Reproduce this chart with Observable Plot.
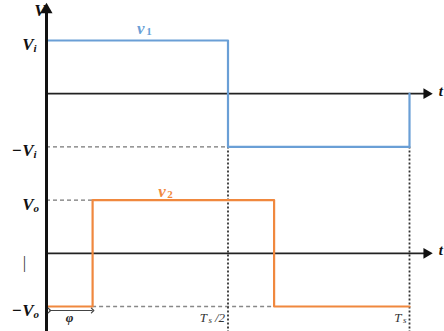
<!DOCTYPE html>
<html>
<head>
<meta charset="utf-8">
<script src="https://cdn.jsdelivr.net/npm/d3@7"></script>
<script src="https://cdn.jsdelivr.net/npm/@observablehq/plot@0.6"></script>
<style>
  html, body { margin: 0; padding: 0; background: #fff; }
  #chart svg { display: block; }
</style>
</head>
<body>
<div id="chart"></div>
<script>
// ---- data (time in units of Ts, voltages in units of the amplitude) ----
const phi = 0.127;                       // phase shift φ (fraction of Ts)
const tV1 = [0, 0.5, 0.5, 1, 1];
const v1  = [1, 1, -1, -1, 0];
const tV2 = [0, phi, phi, 0.5 + phi, 0.5 + phi, 1];
const v2  = [-1, -1, 1, 1, -1, -1];
const base1 = 0;                         // baseline of v1 panel
const base2 = -3;                        // baseline of v2 panel
const tickTimes  = [0.5, 1];
const tickLabels = ["T", "T"];
const tickSubs   = ["s", "s"];
const tickSuffix = ["/2", ""];
const levelLabels = [
  {main: "V",  sub: "i", v: base1 + 1},
  {main: "−V", sub: "i", v: base1 - 1},
  {main: "V",  sub: "o", v: base2 + 1},
  {main: "−V", sub: "o", v: base2 - 1}
];

const blue = "#6a9fd6", orange = "#f0883e";
const serif = "'Liberation Serif', 'DejaVu Serif', serif";

const line1 = tV1.map((t, i) => ({t, v: base1 + v1[i]}));
const line2 = tV2.map((t, i) => ({t, v: base2 + v2[i]}));
const tEnd = 1.047, vTop = 1.58, vBottom = -4.5;

const chart = Plot.plot({
  width: 444, height: 331, margin: 0,
  x: {domain: [0, 1], range: [46, 409], axis: null},
  y: {domain: [-4, 1], range: [306, 40], axis: null},
  marks: [
    // dashed guides
    Plot.ruleY([base1 - 1], {x1: 0, x2: 0.5, stroke: "#777", strokeDasharray: "4,3", strokeWidth: 1.3}),
    Plot.ruleY([base2 + 1], {x1: 0, x2: phi, stroke: "#777", strokeDasharray: "4,3", strokeWidth: 1.3}),
    Plot.ruleY([base2 - 1], {x1: phi, x2: 0.5 + phi, stroke: "#888", strokeDasharray: "4,3", strokeWidth: 1.3}),
    Plot.ruleX(tickTimes, {y1: base1 - 1, y2: vBottom, stroke: "#333", strokeDasharray: "2,2", strokeWidth: 1.8}),
    // horizontal axes
    Plot.ruleY([base1, base2], {x1: 0, x2: tEnd, stroke: "#222", strokeWidth: 1.8}),
    Plot.dot([{t: tEnd, v: base1}, {t: tEnd, v: base2}], {x: "t", y: "v", symbol: "triangle", r: 4, fill: "#111", stroke: null, rotate: 90}),
    // signals
    Plot.line(line1, {x: "t", y: "v", stroke: blue, strokeWidth: 2.2}),
    Plot.line(line2, {x: "t", y: "v", stroke: orange, strokeWidth: 2.2}),
    // vertical axis
    Plot.ruleX([0], {y1: vBottom, y2: vTop, stroke: "#111", strokeWidth: 3}),
    Plot.dot([{t: 0, v: vTop}], {x: "t", y: "v", symbol: "triangle", r: 4.5, fill: "#111", stroke: null}),
    // φ arrow
    Plot.link([{a: 0.008, b: phi}], {x1: "a", x2: "b", y1: -4.075, y2: -4.075, stroke: "#444", strokeWidth: 1.2, markerStart: "arrow", markerEnd: "arrow"}),
    Plot.text(["φ"], {x: phi / 2, y: -4.2, text: d => d, fontFamily: serif, fontStyle: "italic", fontWeight: "bold", fontSize: 13, fill: "#222", dy: 1}),
    // level labels
    Plot.text(levelLabels, {x: 0, y: "v", text: "main", textAnchor: "end", dx: -13, dy: 4, fontFamily: serif, fontStyle: "italic", fontWeight: "bold", fontSize: 17, fill: "#111"}),
    Plot.text(levelLabels, {x: 0, y: "v", text: "sub", textAnchor: "start", dx: -13, dy: 8, fontFamily: serif, fontStyle: "italic", fontWeight: "bold", fontSize: 11, fill: "#111"}),
    Plot.text(["|"], {x: 0, y: base2, text: d => d, dx: -22, dy: 9, fontFamily: serif, fontSize: 17, fill: "#333"}),
    // axis names
    Plot.text(["V"], {x: 0, y: vTop, text: d => d, textAnchor: "end", dx: -1, dy: 1, fontFamily: serif, fontStyle: "italic", fontWeight: "bold", fontSize: 17, fill: "#111"}),
    Plot.text(["t", "t"], {x: 1.092, y: (d, i) => i === 0 ? base1 : base2, text: d => d, textAnchor: "end", dy: -3, fontFamily: serif, fontStyle: "italic", fontWeight: "bold", fontSize: 15, fill: "#111"}),
    // signal names
    Plot.text(["v"], {x: 0.26, y: base1 + 1.22, text: d => d, fontFamily: serif, fontStyle: "italic", fontWeight: "bold", fontSize: 17, fill: blue}),
    Plot.text(["1"], {x: 0.26, y: base1 + 1.22, text: d => d, dx: 8, dy: 3, fontFamily: serif, fontWeight: "bold", fontSize: 11, fill: blue}),
    Plot.text(["v"], {x: 0.318, y: base2 + 1.17, text: d => d, fontFamily: serif, fontStyle: "italic", fontWeight: "bold", fontSize: 17, fill: orange}),
    Plot.text(["2"], {x: 0.318, y: base2 + 1.17, text: d => d, dx: 8, dy: 3, fontFamily: serif, fontWeight: "bold", fontSize: 11, fill: orange}),
    // time tick labels
    Plot.text(tickTimes, {x: d => d, y: -4.2, text: (d, i) => tickSuffix[i], textAnchor: "end", dx: -3, dy: 1, fontFamily: serif, fontStyle: "italic", fontSize: 13, fill: "#333"}),
    Plot.text(tickTimes, {x: d => d, y: -4.2, text: (d, i) => tickSubs[i], textAnchor: "end", dx: -3, dy: 3, fontFamily: serif, fontStyle: "italic", fontSize: 9, fill: "#333", filter: (d, i) => tickSuffix[i] === ""}),
    Plot.text(tickTimes, {x: d => d, y: -4.2, text: (d, i) => tickLabels[i], textAnchor: "end", dx: -8, dy: 1, fontFamily: serif, fontStyle: "italic", fontSize: 13, fill: "#333", filter: (d, i) => tickSuffix[i] === ""}),
    Plot.text(tickTimes, {x: d => d, y: -4.2, text: (d, i) => tickSubs[i], textAnchor: "end", dx: -16, dy: 3, fontFamily: serif, fontStyle: "italic", fontSize: 9, fill: "#333", filter: (d, i) => tickSuffix[i] !== ""}),
    Plot.text(tickTimes, {x: d => d, y: -4.2, text: (d, i) => tickLabels[i], textAnchor: "end", dx: -21, dy: 1, fontFamily: serif, fontStyle: "italic", fontSize: 13, fill: "#333", filter: (d, i) => tickSuffix[i] !== ""})
  ]
});
document.getElementById("chart").append(chart);
</script>
</body>
</html>
